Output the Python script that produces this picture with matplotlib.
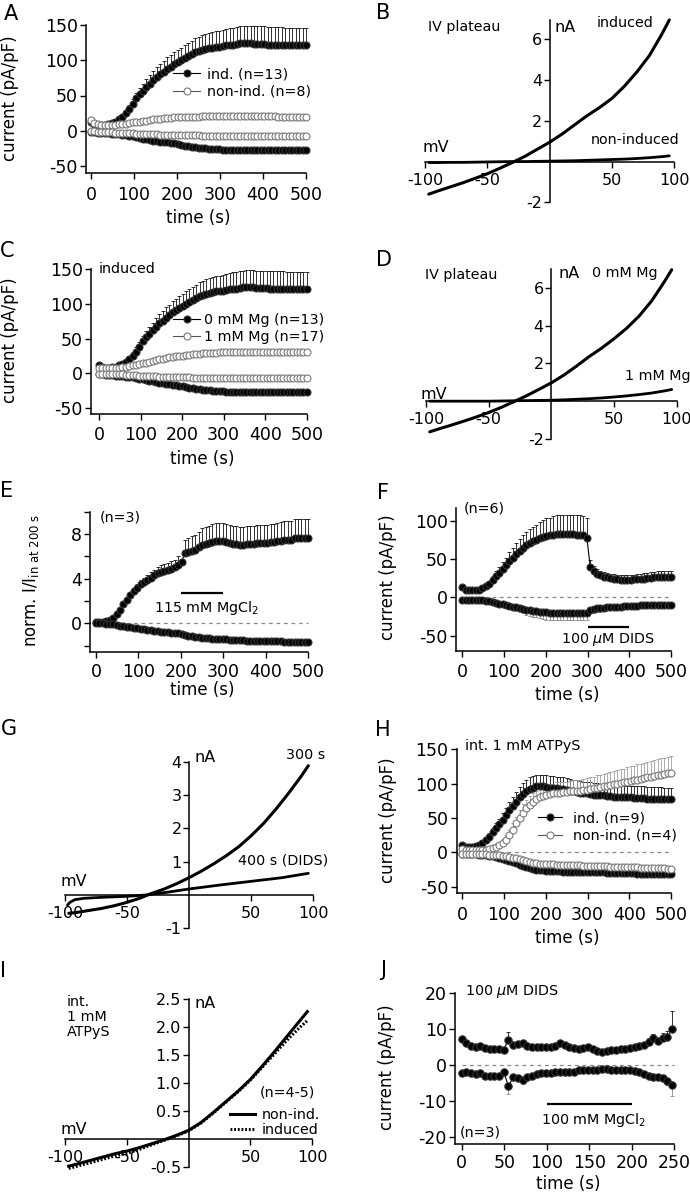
import numpy as np
import matplotlib
matplotlib.use('Agg')
import matplotlib.pyplot as plt

W, H = 690, 1199
plt.rcParams['font.family'] = ['DejaVu Sans']
plt.rcParams['axes.unicode_minus'] = False
plt.rcParams['mathtext.fontset'] = 'dejavusans'

# ---------------- data ----------------
t63 = np.linspace(0, 500, 63)          # sample times (s), panels A, C, E, F, H
tj = np.arange(46) * 5.5               # sample times (s), panel J

# A / C : induced, 0 mM Mg (n=13)
ind_out = [12, 9, 8, 8, 8.5, 9, 11, 13, 16, 20,
           25, 31, 38, 46, 52, 57, 62, 67, 72, 76,
           80, 84, 88, 91, 94, 97, 100, 103, 106, 109,
           111, 113, 115, 116, 117, 118, 119, 119, 120, 121,
           122, 122, 123, 124, 124, 124, 124, 123, 123, 123,
           123, 122, 122, 122, 122, 122, 121, 121, 121, 121,
           121, 121, 121]
ind_out_sem = [2, 2, 2, 2, 2, 2, 3, 3, 3, 4,
               5, 6, 7, 8, 9, 10, 11, 12, 13, 14,
               15, 15, 16, 16, 17, 17, 18, 18, 19, 19,
               20, 20, 21, 21, 22, 22, 22, 23, 23, 23,
               24, 24, 24, 24, 25, 25, 25, 25, 25, 25,
               25, 25, 25, 25, 25, 25, 25, 25, 25, 25,
               25, 25, 25]
ind_in = [-2, -2, -2.5, -3, -3, -3.5, -4, -4.5, -5, -5.5,
          -6, -7, -8, -9, -10, -11, -12, -13, -14, -15,
          -15.5, -16, -16.5, -17, -18, -19, -20, -21, -22, -22.5,
          -23, -24, -24.5, -25, -25.5, -26, -26, -26.5, -27, -27,
          -27.5, -27.5, -27.5, -28, -28, -28, -28, -28, -28, -28,
          -28, -28, -28, -28, -28, -28, -28, -28, -28, -28,
          -28, -28, -28]
ind_in_sem = [1, 1, 1, 1, 1, 1, 1, 1.5, 1.5, 1.5,
              2, 2, 2, 2, 2, 2.5, 2.5, 2.5, 3, 3,
              3, 3, 3, 3, 3.5, 3.5, 3.5, 3.5, 4, 4,
              4, 4, 4, 4, 4, 4, 4, 4, 4, 4,
              4, 4, 4, 4, 4, 4, 4, 4, 4, 4,
              4, 4, 4, 4, 4, 4, 4, 4, 4, 4,
              4, 4, 4]

# A : non-induced (n=8)
nind_out = [15, 11, 9, 8, 8, 8, 8, 8.5, 9, 9.5,
            10, 11, 12, 12.5, 13, 14, 14.5, 15, 16, 16.5,
            17, 17.5, 18, 18.5, 19, 19, 19.5, 19.5, 20, 20,
            20, 20, 20.5, 20.5, 20.5, 21, 21, 21, 21, 21,
            21, 21.5, 21.5, 21.5, 21, 21, 21, 21, 20.5, 20.5,
            20.5, 20.5, 20.5, 20.5, 20, 20, 20, 20, 20, 20,
            20, 20, 20]
nind_out_sem = [1.5] * 10 + [2, 2, 2, 2.5, 2.5, 2.5, 3, 3, 3, 3] + \
               [3, 3, 3, 3.5, 3.5, 3.5, 3.5, 3.5, 3.5, 3.5] + [4] * 33
nind_in = [-1, -1, -1.5, -1.5, -2, -2, -2, -2.5, -2.5, -3,
           -3, -3.5, -3.5, -4, -4, -4.5, -4.5, -5, -5, -5,
           -5.5, -5.5, -5.5, -6, -6, -6, -6, -6.5, -6.5, -6.5,
           -6.5, -6.5, -7, -7, -7, -7, -7, -7, -7, -7] + [-7] * 23
nind_in_sem = [1] * 10 + [1.5] * 10 + [2] * 43

# C : 1 mM Mg (n=17)
mg1_out = [8, 7, 7, 7, 7, 7.5, 8, 8.5, 9, 10,
           11, 12, 13, 14, 15, 16, 17.5, 19, 20, 21,
           22, 23, 23.5, 24, 24.5, 25, 26, 26.5, 27, 27.5,
           28, 28.5, 29, 29, 29.5, 29.5, 30, 30, 30, 30.5,
           30.5, 30.5, 30.5, 31, 31, 31, 31, 31, 31, 31] + [31] * 13
mg1_out_sem = [1.5] * 10 + [2] * 10 + [2.5] * 10 + [3] * 33
mg1_in = [-1, -1, -1, -1.5, -1.5, -2, -2, -2, -2.5, -2.5,
          -3, -3, -3.5, -3.5, -4, -4, -4.5, -4.5, -5, -5,
          -5, -5.5, -5.5, -5.5, -6, -6, -6, -6, -6.5, -6.5,
          -6.5, -6.5, -6.5, -7, -7, -7, -7, -7, -7, -7] + [-7] * 23
mg1_in_sem = [1] * 20 + [1.5] * 43

# E : normalized, 115 mM MgCl2 (n=3)
e_out = [0.1, 0.1, 0.1, 0.2, 0.3, 0.5, 0.8, 1.2, 1.7, 2.1,
         2.5, 2.9, 3.2, 3.5, 3.7, 3.9, 4.1, 4.3, 4.5, 4.6,
         4.7, 4.8, 4.9, 5.0, 5.2, 5.5, 6.3, 6.4, 6.5, 6.6,
         6.8, 7.0, 7.1, 7.2, 7.3, 7.4, 7.4, 7.4, 7.3, 7.2,
         7.1, 7.1, 7.0, 7.0, 7.1, 7.1, 7.1, 7.2, 7.2, 7.2,
         7.2, 7.3, 7.3, 7.4, 7.4, 7.5, 7.5, 7.5, 7.6, 7.6,
         7.6, 7.6, 7.6]
e_out_sem = [0.1, 0.1, 0.1, 0.1, 0.1, 0.2, 0.2, 0.2, 0.2, 0.3,
             0.3, 0.3, 0.3, 0.4, 0.4, 0.4, 0.5, 0.5, 0.5, 0.6,
             0.6, 0.6, 0.7, 0.7, 0.8, 0.3, 1.2, 1.2, 1.3, 1.3,
             1.4, 1.5, 1.5, 1.5, 1.6, 1.6, 1.6, 1.6, 1.6, 1.6,
             1.6, 1.6, 1.6, 1.6, 1.6, 1.6, 1.6, 1.6, 1.6, 1.6,
             1.6, 1.6, 1.6, 1.6, 1.7, 1.7, 1.7, 1.7, 1.7, 1.7,
             1.7, 1.7, 1.7]
e_in = [0, 0, 0, -0.05, -0.1, -0.1, -0.15, -0.2, -0.25, -0.3,
        -0.35, -0.4, -0.45, -0.5, -0.55, -0.6, -0.6, -0.65, -0.7, -0.75,
        -0.75, -0.8, -0.85, -0.85, -0.9, -0.95, -1.05, -1.1, -1.15, -1.2,
        -1.25, -1.3, -1.3, -1.35, -1.4, -1.4, -1.45, -1.45, -1.45, -1.5,
        -1.5, -1.5, -1.5, -1.5, -1.55, -1.55, -1.55, -1.55, -1.55, -1.55,
        -1.6, -1.6, -1.6, -1.6, -1.6, -1.65, -1.65, -1.65, -1.65, -1.7,
        -1.7, -1.7, -1.7]
e_in_sem = [0.1] * 20 + [0.15] * 43
e_mg_window = (200, 300)

# F : 100 uM DIDS (n=6)
f_out = [14, 10, 9, 9, 9, 10, 12, 15, 18, 23,
         28, 32, 37, 42, 47, 52, 57, 61, 65, 68,
         71, 73, 75, 77, 79, 80, 81, 82, 83, 83,
         83, 83, 83, 83, 82, 82, 81, 78, 40, 34,
         31, 29, 27, 26, 25, 24, 23.5, 23, 23, 23,
         23, 23.5, 24, 24, 24.5, 25, 25.5, 26, 26, 26.5,
         27, 27, 27]
f_out_sem = [2, 2, 2, 2, 2, 2, 3, 3, 4, 5,
             7, 8, 9, 10, 12, 13, 14, 15, 16, 17,
             18, 19, 20, 21, 22, 23, 23, 24, 24, 25,
             25, 25, 25, 25, 25, 25, 25, 25, 9, 7,
             6, 6, 6, 6, 6, 6, 6, 6, 6, 6,
             6, 6, 6, 7, 7, 7, 7, 7, 8, 8,
             8, 8, 8]
f_in = [-3, -3, -3, -3, -3, -3, -4, -4.5, -5, -6,
        -7, -8, -9, -10, -11, -12, -13, -14, -15, -16,
        -17, -17.5, -18, -18.5, -19, -19.5, -20, -20, -20, -20,
        -20, -20, -20, -20, -20, -20, -20, -20, -16, -15,
        -14.5, -14, -13.5, -13, -13, -12.5, -12, -12, -11.5, -11.5,
        -11, -11, -11, -10.5, -10.5, -10.5, -10.5, -10, -10, -10,
        -10, -10, -10]
f_in_sem = [1, 1, 1, 1, 1, 1, 1, 1.5, 1.5, 2,
            2, 2.5, 3, 3.5, 4, 4.5, 5, 5.5, 6, 6.5,
            7, 7.5, 8, 8.5, 9, 9.5, 10, 10, 10, 10,
            10, 10, 10, 10, 10, 10, 10, 10, 5, 5,
            4.5, 4.5, 4, 4, 4, 3.5, 3.5, 3.5, 3, 3] + [3] * 13
f_dids_window = (300, 400)

# H : int. 1 mM ATPyS
h_ind_out = [10, 8, 8, 8, 9, 11, 14, 18, 23, 29,
             35, 41, 47, 54, 61, 68, 74, 80, 85, 89,
             92, 94, 96, 96, 96, 95, 94, 94, 93, 92,
             92, 91, 90, 89, 88, 87, 86, 86, 85, 84,
             84, 83, 83, 82, 82, 81, 81, 81, 80, 80,
             80, 79, 79, 79, 79, 78, 78, 78, 78, 78,
             77, 77, 77]
h_ind_out_sem = [2, 2, 2, 2, 2, 3, 3, 4, 5, 6,
                 7, 8, 10, 11, 12, 13, 14, 15, 16, 16] + [17] * 43
h_nind_out = [5, 4, 3, 3, 3, 3, 3, 4, 5, 6,
              8, 10, 13, 18, 25, 33, 42, 50, 58, 64,
              69, 74, 77, 80, 82, 84, 85, 86, 87, 87,
              88, 88, 89, 89, 90, 90, 91, 91, 92, 93,
              94, 95, 96, 97, 98, 99, 100, 101, 102, 103,
              104, 105, 106, 107, 108, 109, 110, 111, 112, 113,
              114, 115, 116]
h_nind_out_sem = [3, 3, 3, 3, 3, 3, 3, 3, 3, 4,
                  4, 5, 6, 7, 8, 9, 10, 11, 12, 12,
                  13, 13, 13, 13, 14, 14, 14, 14, 15, 15,
                  15, 15, 15, 16, 16, 16, 16, 17, 17, 17,
                  18, 18, 18, 19, 19, 19, 20, 20, 20, 21,
                  21, 21, 22, 22, 22, 23, 23, 23, 24, 24,
                  24, 24, 24]
h_ind_in = [-2, -2, -2.5, -3, -3, -3.5, -4, -4.5, -5, -6,
            -7, -8, -9, -10.5, -12, -14, -16, -18, -20, -21.5,
            -23, -24, -25, -25.5, -26, -26.5, -27, -27, -27.5, -27.5,
            -28, -28, -28, -28, -28, -28.5, -28.5, -28.5, -28.5, -29,
            -29, -29, -29, -29.5, -29.5, -30, -30, -30, -30, -30.5,
            -30.5, -30.5, -31, -31, -31, -31.5, -31.5, -31.5, -31.5, -32,
            -32, -32, -32]
h_ind_in_sem = [1] * 10 + [2] * 10 + [3] * 43
h_nind_in = [-2, -2, -2, -2.5, -2.5, -2.5, -3, -3, -3.5, -3.5,
             -4, -4, -5, -5.5, -6.5, -7.5, -8.5, -9.5, -11, -12.5,
             -14, -15, -16, -16.5, -17, -17, -17.5, -17.5, -18, -18,
             -18.5, -18.5, -18.5, -19, -19, -19, -19.5, -19.5, -20, -20,
             -20, -20.5, -20.5, -20.5, -21, -21, -21, -21.5, -21.5, -21.5,
             -22, -22, -22, -22.5, -22.5, -22.5, -23, -23, -23, -23.5,
             -23.5, -24, -24]
h_nind_in_sem = [1.5] * 10 + [2.5] * 10 + [4] * 43

# J : 100 uM DIDS, 100 mM MgCl2 (n=3)
j_out = [7.2, 6.0, 5.2, 5.0, 5.3, 4.7, 4.5, 4.5, 4.5, 4.2,
         7.0, 5.5, 5.8, 6.0, 5.2, 4.8, 4.8, 4.8, 4.8, 4.9,
         5.2, 6.0, 5.6, 5.0, 4.6, 4.3, 4.7, 5.0, 4.3, 3.7,
         3.5, 3.8, 4.0, 4.2, 4.3, 4.4, 4.6, 4.8, 5.2, 5.6,
         6.3, 7.3, 6.5, 7.5, 7.8, 10.0]
j_out_sem = [0.5] * 10 + [2.0, 0.8, 0.8, 0.7, 0.5, 0.5, 0.5, 0.5, 0.5, 0.5] + \
            [0.5] * 10 + [0.5, 0.5, 0.6, 0.6, 0.6, 0.6, 0.7, 0.7, 0.8, 0.8] + \
            [1.0, 1.2, 1.0, 1.3, 1.5, 5.0]
j_in = [-2.2, -2.0, -2.2, -2.5, -2.3, -3.0, -3.2, -3.2, -3.0, -2.0,
        -6.0, -3.5, -3.8, -4.2, -3.5, -3.0, -2.6, -2.4, -2.3, -2.2,
        -2.1, -2.1, -2.0, -2.0, -1.9, -1.6, -1.4, -1.5, -1.6, -1.4,
        -1.2, -1.3, -1.4, -1.5, -1.4, -1.5, -1.6, -1.8, -2.0, -2.5,
        -3.0, -3.3, -3.5, -3.8, -4.5, -5.6]
j_in_sem = [0.5] * 10 + [2.0, 0.8, 0.8, 1.2, 0.8, 0.5, 0.5, 0.5, 0.5, 0.5] + \
           [0.5] * 20 + [0.8, 0.8, 0.8, 0.8, 1.0, 3.0]
j_mg_window = (100, 200)

# IV curves (mV, nA)
mv = [-97, -90, -80, -70, -60, -50, -40, -30, -20, -10, 0,
      10, 20, 30, 40, 50, 60, 70, 80, 90, 96]
b_induced = [-1.6, -1.45, -1.25, -1.05, -0.83, -0.6, -0.33, -0.05, 0.25, 0.6, 0.95,
             1.35, 1.8, 2.25, 2.65, 3.1, 3.7, 4.4, 5.2, 6.25, 6.95]
b_noninduced = [-0.05, -0.05, -0.04, -0.04, -0.03, -0.02, -0.01, 0.0, 0.0, 0.01, 0.02,
                0.03, 0.04, 0.06, 0.08, 0.1, 0.12, 0.15, 0.19, 0.24, 0.28]
d_mg0 = [-1.62, -1.47, -1.27, -1.06, -0.84, -0.6, -0.33, -0.03, 0.28, 0.62, 0.97,
         1.38, 1.85, 2.35, 2.8, 3.3, 3.85, 4.5, 5.3, 6.3, 6.95]
d_mg1 = [0.0, 0.0, 0.0, 0.0, 0.0, 0.0, 0.01, 0.02, 0.03, 0.04, 0.05,
         0.07, 0.1, 0.13, 0.17, 0.22, 0.28, 0.35, 0.43, 0.54, 0.62]
g_300s = [-0.55, -0.52, -0.46, -0.4, -0.32, -0.22, -0.1, 0.05, 0.18, 0.34, 0.52,
          0.72, 0.94, 1.18, 1.45, 1.78, 2.15, 2.58, 3.05, 3.55, 3.88]
g_mv_dids = [-98, -96, -92, -85, -70, -50, -35, -20, 0, 25, 50, 75, 96]
g_400s = [-0.3, -0.22, -0.14, -0.1, -0.07, -0.04, 0.0, 0.07, 0.18, 0.3, 0.41, 0.52, 0.65]
i_nonind = [-0.48, -0.44, -0.38, -0.32, -0.26, -0.21, -0.15, -0.08, -0.01, 0.07, 0.16,
            0.3, 0.48, 0.67, 0.86, 1.07, 1.32, 1.58, 1.85, 2.12, 2.28]
i_induced = [-0.52, -0.48, -0.42, -0.36, -0.3, -0.25, -0.18, -0.1, -0.02, 0.06, 0.15,
             0.29, 0.47, 0.66, 0.85, 1.06, 1.3, 1.54, 1.78, 2.0, 2.12]

# ---------------- helpers ----------------
fig = plt.figure(figsize=(W / 100, H / 100), dpi=100)


def add_panel(box, xcal, ycal):
    # box in pixels (left, top, right, bottom); xcal/ycal: two (value, pixel) pairs
    L, T, R, B = box
    ax = fig.add_axes([L / W, 1 - B / H, (R - L) / W, (B - T) / H])
    (xa, pa), (xb, pb) = xcal
    kx = (xb - xa) / (pb - pa)
    ax.set_xlim(xa + (L - pa) * kx, xa + (R - pa) * kx)
    (ya, qa), (yb, qb) = ycal
    ky = (yb - ya) / (qb - qa)
    ax.set_ylim(ya + (B - qa) * ky, ya + (T - qa) * ky)
    ax.patch.set_alpha(0)
    return ax


def txt(px, py, s, size=10.3, ha='left', va='center', **kw):
    fig.text(px / W, 1 - py / H, s, fontsize=size, ha=ha, va=va, **kw)


def style_time(ax, xticks, yticks, ytop, xpad=4.5):
    for s in ('top', 'right'):
        ax.spines[s].set_visible(False)
    for s in ('left', 'bottom'):
        ax.spines[s].set_linewidth(1.1)
    ax.spines['left'].set_bounds(ax.get_ylim()[0], ytop)
    ax.spines['bottom'].set_bounds(ax.get_xlim()[0], xticks[-1])
    ax.set_xticks(xticks)
    ax.set_yticks(yticks)
    ax.tick_params(direction='out', length=4.5, width=1, labelsize=12.5)
    ax.tick_params(axis='x', pad=xpad)
    ax.tick_params(axis='y', pad=1.5)


def style_iv(ax, xticks, yticks, ylo, yhi, fmt='{:g}'):
    for s in ('top', 'right'):
        ax.spines[s].set_visible(False)
    for s in ('left', 'bottom'):
        ax.spines[s].set_position(('data', 0))
        ax.spines[s].set_linewidth(1.1)
    ax.spines['left'].set_bounds(ylo, yhi)
    ax.spines['bottom'].set_bounds(-100, 100)
    ax.set_xticks(xticks)
    ax.set_yticks(yticks)
    ax.set_yticklabels([fmt.format(v) for v in yticks])
    ax.tick_params(direction='out', length=4.5, width=1, labelsize=11.5)
    ax.tick_params(axis='x', pad=3.5)
    ax.tick_params(axis='y', pad=1)


def trace(ax, t, y, sem, kind, up, label=None, ms=5):
    sem = np.asarray(sem, dtype=float)
    zero = np.zeros_like(sem)
    err = [zero, sem] if up else [sem, zero]
    if kind == 'filled':
        ecol = '#111111' if up else '#8a8a8a'
        mfc, mec, lc, z = 'black', '#333333', 'black', 3
    else:
        ecol = '#a0a0a0'
        mfc, mec, lc, z = 'white', '#7a7a7a', '#555555', 4
    ax.errorbar(t, y, yerr=err, fmt='none', ecolor=ecol, elinewidth=0.6,
                capsize=1.3, capthick=0.6, zorder=2)
    ax.plot(t, y, '-o', color=lc, lw=0.8, ms=ms, mfc=mfc, mec=mec, mew=0.8,
            zorder=z, label=label)


def legend(ax, px, py, hl, pad, spacing):
    ax.legend(loc='upper left', bbox_to_anchor=(px / W, 1 - py / H),
              bbox_transform=fig.transFigure, frameon=False, fontsize=10.3,
              handlelength=hl, handletextpad=pad, labelspacing=spacing,
              borderpad=0, borderaxespad=0, numpoints=1)


def zero_line(ax, span):
    ax.hlines(0, span[0], span[1], colors='#888888', linestyles=(0, (3, 3)),
              lw=0.9, zorder=1)


tsteps = list(range(0, 501, 100))

# ---------------- A ----------------
axA = add_panel((86, 18, 312, 173), ((0, 91), (500, 306)), ((150, 25), (-50, 166)))
trace(axA, t63, ind_out, ind_out_sem, 'filled', True, 'ind. (n=13)')
trace(axA, t63, ind_in, ind_in_sem, 'filled', False)
trace(axA, t63, nind_out, nind_out_sem, 'open', True, 'non-ind. (n=8)')
trace(axA, t63, nind_in, nind_in_sem, 'open', False)
style_time(axA, tsteps, [-50, 0, 50, 100, 150], 150)
legend(axA, 173, 67, 1.9, 0.45, 0.25)
txt(11, 14, 'A', 15, ha='center')
txt(10, 98, 'current (pA/pF)', 12, ha='center', rotation=90)
txt(198, 218, 'time (s)', 12, ha='center')

# ---------------- B ----------------
axB = add_panel((415, 15, 690, 215), ((-100, 425), (100, 674.3)), ((6, 39.3), (-2, 202.3)))
axB.plot(mv, b_induced, color='black', lw=2.2, solid_capstyle='round')
axB.plot(mv, b_noninduced, color='black', lw=2.0, solid_capstyle='round')
style_iv(axB, [-100, -50, 50, 100], [-2, 2, 4, 6], -2, 6.95)
txt(383, 13, 'B', 15, ha='center')
txt(428, 27, 'IV plateau')
txt(555, 27, 'nA', 11.5)
txt(597, 23, 'induced')
txt(591, 140, 'non-induced')
txt(423, 147, 'mV', 11.5)

# ---------------- C ----------------
axC = add_panel((91, 262, 312, 414), ((0, 99), (500, 306.7)), ((150, 269.3), (-50, 407.7)))
trace(axC, t63, ind_out, ind_out_sem, 'filled', True, '0 mM Mg (n=13)')
trace(axC, t63, ind_in, ind_in_sem, 'filled', False)
trace(axC, t63, mg1_out, mg1_out_sem, 'open', True, '1 mM Mg (n=17)')
trace(axC, t63, mg1_in, mg1_in_sem, 'open', False)
style_time(axC, tsteps, [-50, 0, 50, 100, 150], 150)
legend(axC, 173, 313, 1.9, 0.3, 0.2)
txt(7, 251, 'C', 15, ha='center')
txt(10, 340, 'current (pA/pF)', 12, ha='center', rotation=90)
txt(202, 459, 'time (s)', 12, ha='center')
txt(99, 269, 'induced')

# ---------------- D ----------------
axD = add_panel((415, 262, 690, 450), ((-100, 426), (100, 676.7)), ((6, 287.7), (-2, 439)))
axD.plot(mv, d_mg0, color='black', lw=2.2, solid_capstyle='round')
axD.plot(mv, d_mg1, color='black', lw=2.0, solid_capstyle='round')
style_iv(axD, [-100, -50, 50, 100], [-2, 2, 4, 6], -2, 7.0)
txt(384, 260, 'D', 15, ha='center')
txt(425, 275, 'IV plateau')
txt(558, 274, 'nA', 11.5)
txt(592, 273, '0 mM Mg')
txt(625, 376, '1 mM Mg')
txt(421, 394, 'mV', 11.5)

# ---------------- E ----------------
axE = add_panel((90, 505, 312, 651.7), ((0, 96), (500, 308.3)), ((8, 534), (0, 623.3)))
zero_line(axE, (0, 500))
trace(axE, t63, e_out, e_out_sem, 'filled', True)
trace(axE, t63, e_in, e_in_sem, 'filled', False)
axE.hlines(2.74, e_mg_window[0], e_mg_window[1], colors='black', lw=1.6)
style_time(axE, tsteps, [0, 4, 8], 10, xpad=3.5)
axE.set_yticks([-2, 2, 6, 10], minor=True)
axE.tick_params(axis='y', which='minor', direction='out', length=4, width=1)
txt(7, 491, 'E', 15, ha='center')
txt(31, 580, r'norm. I/I$_{\mathrm{in\ at\ 200\ s}}$', 12, ha='center', rotation=90)
txt(202, 690, 'time (s)', 12, ha='center')
txt(100, 517, '(n=3)')
txt(207, 608, r'115 mM MgCl$_2$', ha='center')

# ---------------- F ----------------
axF = add_panel((456, 505, 678, 650.7), ((0, 462.3), (500, 671)), ((100, 520.7), (-50, 635.7)))
zero_line(axF, (0, 500))
trace(axF, t63, f_out, f_out_sem, 'filled', True)
trace(axF, t63, f_in, f_in_sem, 'filled', False)
axF.hlines(-38, f_dids_window[0], f_dids_window[1], colors='black', lw=1.6)
style_time(axF, tsteps, [-50, 0, 50, 100], 117)
txt(383, 493, 'F', 15, ha='center')
txt(388, 577, 'current (pA/pF)', 12, ha='center', rotation=90)
txt(567, 695, 'time (s)', 12, ha='center')
txt(464, 508, '(n=6)')
txt(608, 639, r'100 $\mu$M DIDS', ha='center')

# ---------------- G ----------------
axG = add_panel((55, 745, 340, 940), ((-100, 65), (100, 313.3)), ((4, 761.7), (-1, 928.3)))
axG.plot(mv, g_300s, color='black', lw=2.2, solid_capstyle='round')
axG.plot(g_mv_dids, g_400s, color='black', lw=2.0, solid_capstyle='round')
style_iv(axG, [-100, -50, 50, 100], [-1, 1, 2, 3, 4], -1, 4)
txt(9, 729, 'G', 15, ha='center')
txt(195, 757, 'nA', 11.5)
txt(286, 755, '300 s')
txt(238, 861, '400 s (DIDS)')
txt(60, 882, 'mV', 11.5)

# ---------------- H ----------------
axH = add_panel((456.7, 742, 678, 893.3), ((0, 462.3), (500, 671)), ((150, 749.3), (-50, 886.7)))
zero_line(axH, (0, 500))
trace(axH, t63, h_ind_out, h_ind_out_sem, 'filled', True, 'ind. (n=9)')
trace(axH, t63, h_ind_in, h_ind_in_sem, 'filled', False)
trace(axH, t63, h_nind_out, h_nind_out_sem, 'open', True, 'non-ind. (n=4)')
trace(axH, t63, h_nind_in, h_nind_in_sem, 'open', False)
style_time(axH, tsteps, [-50, 0, 50, 100, 150], 150)
legend(axH, 538, 811, 1.7, 0.75, 0.25)
txt(383, 730, 'H', 15, ha='center')
txt(388, 820, 'current (pA/pF)', 12, ha='center', rotation=90)
txt(567, 938, 'time (s)', 12, ha='center')
txt(465, 746, 'int. 1 mM ATPyS')

# ---------------- I ----------------
axI = add_panel((55, 985, 340, 1180), ((-100, 65), (100, 312.3)), ((2.5, 999.3), (-0.5, 1167.3)))
axI.plot(mv, i_nonind, color='black', lw=2.2, label='non-ind.')
axI.plot(mv, i_induced, color='black', lw=2.2, linestyle=(0, (0.6, 0.6)), label='induced')
style_iv(axI, [-100, -50, 50, 100], [-0.5, 0.5, 1.0, 1.5, 2.0, 2.5], -0.5, 2.5, '{:.1f}')
axI.legend(loc='upper left', bbox_to_anchor=(230 / W, 1 - 1108 / H),
           bbox_transform=fig.transFigure, frameon=False, fontsize=10.3,
           handlelength=1.75, handletextpad=0.45, labelspacing=0.05,
           borderpad=0, borderaxespad=0)
txt(3, 971, 'I', 15, ha='center')
txt(67, 1002, 'int.')
txt(67, 1017, '1 mM')
txt(67, 1032, 'ATPyS')
txt(195, 1003, 'nA', 11.5)
txt(260, 1092, '(n=4-5)')
txt(60, 1129, 'mV', 11.5)

# ---------------- J ----------------
axJ = add_panel((455, 985, 680, 1144.3), ((0, 461.7), (250, 674.3)), ((20, 992.7), (-20, 1136.7)))
zero_line(axJ, (0, 250))
trace(axJ, tj, j_out, j_out_sem, 'filled', True, ms=5.3)
trace(axJ, tj, j_in, j_in_sem, 'filled', False, ms=5.3)
axJ.hlines(-10.9, j_mg_window[0], j_mg_window[1], colors='black', lw=1.6)
style_time(axJ, [0, 50, 100, 150, 200, 250], [-20, -10, 0, 10, 20], 20, xpad=2.5)
txt(383, 970, 'J', 15, ha='center')
txt(387, 1067, 'current (pA/pF)', 12, ha='center', rotation=90)
txt(568, 1184, 'time (s)', 12, ha='center')
txt(465, 991, r'100 $\mu$M DIDS')
txt(460, 1132, '(n=3)')
txt(594, 1120, r'100 mM MgCl$_2$', ha='center')

fig.savefig('out.png', dpi=100)
